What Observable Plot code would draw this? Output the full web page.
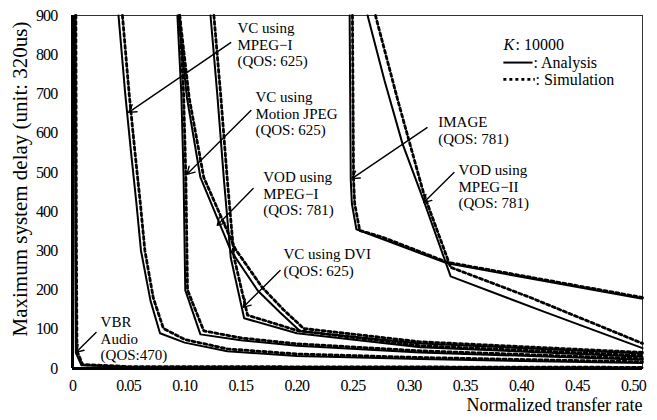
<!DOCTYPE html>
<html>
<head>
<meta charset="utf-8">
<script src="https://cdn.jsdelivr.net/npm/d3@7"></script>
<script src="https://cdn.jsdelivr.net/npm/@observablehq/plot@0.6"></script>
<style>
  html, body { margin: 0; padding: 0; background: #fff; }
  #chart svg text { font-family: "Liberation Serif", "DejaVu Serif", serif; }
  g[aria-label="x-axis tick label"] text, g[aria-label="y-axis tick label"] text { letter-spacing: -0.8px; }
</style>
</head>
<body>
<div id="chart"></div>
<script>
// ---------- tick values ----------
const xTicks = [0, 0.05, 0.10, 0.15, 0.20, 0.25, 0.30, 0.35, 0.40, 0.45, 0.50];
const xTickLabels = ["0", "0.05", "0.10", "0.15", "0.20", "0.25", "0.30", "0.35", "0.40", "0.45", "0.50"];
const yTicks = [0, 100, 200, 300, 400, 500, 600, 700, 800, 900];

// ---------- series: [normalized transfer rate, max system delay] ----------
// Analysis (solid)
const vbrAnalysis      = [[0.002, 900], [0.0025, 300], [0.003, 40], [0.008, 8], [0.05, 4], [0.508, 2]];
const mpeg1Analysis    = [[0.041, 900], [0.047, 700], [0.052, 556], [0.057, 420], [0.061, 301], [0.0695, 173], [0.078, 90], [0.1, 66], [0.138, 44], [0.2, 32], [0.31, 24], [0.508, 14]];
const mjpegAnalysis    = [[0.0935, 900], [0.097, 700], [0.099, 490], [0.1005, 200], [0.114, 87], [0.15, 72], [0.2, 58], [0.31, 41], [0.508, 22]];
const vodMpeg1Analysis = [[0.0945, 900], [0.102, 690], [0.114, 487], [0.141, 301], [0.165, 199], [0.185, 143], [0.203, 95], [0.31, 64], [0.508, 38]];
const dviAnalysis      = [[0.123, 900], [0.129, 700], [0.135, 480], [0.141, 283], [0.153, 128], [0.2, 90], [0.31, 54], [0.508, 30]];
const imageAnalysis    = [[0.247, 900], [0.248, 480], [0.249, 420], [0.253, 355], [0.275, 331], [0.334, 268], [0.508, 178]];
const vodMpeg2Analysis = [[0.263, 900], [0.278, 735], [0.294, 574], [0.313, 428], [0.337, 235], [0.42, 145], [0.508, 52]];

// Simulation (dashed)
const vbrSimulation      = [[0.003, 900], [0.0035, 300], [0.004, 45], [0.009, 10], [0.05, 5], [0.508, 3]];
const mpeg1Simulation    = [[0.0445, 900], [0.0505, 700], [0.0555, 556], [0.0605, 420], [0.0645, 301], [0.072, 180], [0.081, 102], [0.1, 74], [0.138, 50], [0.2, 37], [0.31, 28], [0.508, 17]];
const mjpegSimulation    = [[0.0955, 900], [0.099, 700], [0.101, 490], [0.1025, 200], [0.117, 96], [0.15, 78], [0.2, 63], [0.31, 45], [0.508, 25]];
const vodMpeg1Simulation = [[0.0955, 900], [0.104, 690], [0.117, 487], [0.145, 305], [0.169, 207], [0.188, 150], [0.206, 102], [0.31, 68], [0.508, 41]];
const dviSimulation      = [[0.126, 900], [0.132, 700], [0.138, 480], [0.144, 283], [0.156, 136], [0.2, 97], [0.31, 58], [0.508, 33]];
const imageSimulation    = [[0.2495, 900], [0.2505, 480], [0.2515, 420], [0.256, 352], [0.277, 334], [0.334, 271], [0.508, 181]];
const vodMpeg2Simulation = [[0.27, 900], [0.29, 683], [0.313, 446], [0.337, 258], [0.408, 181], [0.508, 64]];

const curveNames = ["VBR Audio", "VC MPEG-I", "VC Motion JPEG", "VOD MPEG-I", "VC DVI", "IMAGE", "VOD MPEG-II"];
const analysisSeries = [vbrAnalysis, mpeg1Analysis, mjpegAnalysis, vodMpeg1Analysis, dviAnalysis, imageAnalysis, vodMpeg2Analysis];
const simulationSeries = [vbrSimulation, mpeg1Simulation, mjpegSimulation, vodMpeg1Simulation, dviSimulation, imageSimulation, vodMpeg2Simulation];

// ---------- annotations (data units) ----------
const annotationText = [
  "VC using\nMPEG\u2212I\n(QOS: 625)",
  "VC using\nMotion JPEG\n(QOS: 625)",
  "VOD using\nMPEG\u2212I\n(QOS: 781)",
  "VC using DVI\n(QOS: 625)",
  "IMAGE\n(QOS: 781)",
  "VOD using\nMPEG\u2212II\n(QOS: 781)",
  "VBR\nAudio\n(QOS:470)"
];
const annotationX = [0.147, 0.163, 0.170, 0.188, 0.326, 0.344, 0.025];
const annotationY = [885, 709, 505, 308, 645, 523, 135];
const arrowFromX = [0.141, 0.159, 0.161, 0.185, 0.316, 0.340, 0.021];
const arrowFromY = [831, 658, 459, 250, 614, 500, 92];
const arrowToX   = [0.050, 0.102, 0.129, 0.152, 0.249, 0.313, 0.003];
const arrowToY   = [653, 495, 365, 156, 484, 423, 41];

// ---------- tables ----------
const toRows = (series) => series.flatMap((pts, i) => pts.map(([x, y]) => ({curve: curveNames[i], x, y})));
const analysisRows = toRows(analysisSeries);
const simulationRows = toRows(simulationSeries);
const annotations = annotationText.map((t, i) => ({
  text: t, x: annotationX[i], y: annotationY[i],
  x1: arrowFromX[i], y1: arrowFromY[i], x2: arrowToX[i], y2: arrowToY[i]
}));

// legend sample lines (data units)
const legendSolid = [{x1: 0.384, x2: 0.410, y: 780}];
const legendDashed = [{x1: 0.384, x2: 0.412, y: 737}];

const chart = Plot.plot({
  width: 657,
  height: 420,
  marginLeft: 72,
  marginRight: 15,
  marginTop: 15,
  marginBottom: 52,
  style: {fontFamily: "'Liberation Serif', serif", fontSize: "15px", color: "black", background: "white"},
  x: {domain: [0, 0.508]},
  y: {domain: [0, 900]},
  marks: [
    Plot.frame({stroke: "#333", strokeWidth: 1}),
    Plot.axisX({ticks: xTicks, tickFormat: (d) => xTickLabels[xTicks.indexOf(d)], tickSize: 0, tickPadding: 11, label: null, fontSize: 16}),
    Plot.axisY({ticks: yTicks, tickSize: 0, tickPadding: 15, label: null, fontSize: 16}),
    Plot.line(analysisRows, {x: "x", y: "y", z: "curve", stroke: "black", strokeWidth: 2}),
    Plot.line(simulationRows, {x: "x", y: "y", z: "curve", stroke: "black", strokeWidth: 2.8, strokeDasharray: "3,3"}),
    Plot.ruleX([0], {stroke: "black", strokeWidth: 3}),
    Plot.ruleY([0], {stroke: "black", strokeWidth: 3}),
    Plot.arrow(annotations, {x1: "x1", y1: "y1", x2: "x2", y2: "y2", stroke: "black", strokeWidth: 1.4, headLength: 9}),
    Plot.text(annotations, {x: "x", y: "y", text: "text", textAnchor: "start", lineAnchor: "top", lineHeight: 1.1, fontSize: 15, fill: "black"}),
    // legend
    Plot.text(["K"], {frameAnchor: "top-left", dx: 431, dy: 29, textAnchor: "start", lineAnchor: "middle", fontStyle: "italic", fontSize: 16}),
    Plot.text([": 10000"], {frameAnchor: "top-left", dx: 443, dy: 29, textAnchor: "start", lineAnchor: "middle", fontSize: 16}),
    Plot.link(legendSolid, {x1: "x1", x2: "x2", y1: "y", y2: "y", stroke: "black", strokeWidth: 2}),
    Plot.link(legendDashed, {x1: "x1", x2: "x2", y1: "y", y2: "y", stroke: "black", strokeWidth: 2.8, strokeDasharray: "3,3"}),
    Plot.text([": Analysis"], {frameAnchor: "top-left", dx: 461, dy: 47, textAnchor: "start", lineAnchor: "middle", fontSize: 16}),
    Plot.text([": Simulation"], {frameAnchor: "top-left", dx: 463, dy: 64, textAnchor: "start", lineAnchor: "middle", fontSize: 16}),
    // axis titles
    Plot.text(["Normalized transfer rate"], {frameAnchor: "bottom-right", dy: 37, textAnchor: "end", lineAnchor: "middle", fontSize: 18}),
    Plot.text(["Maximum system delay (unit: 320us)"], {frameAnchor: "left", dx: -52, dy: -13, rotate: -90, textAnchor: "middle", lineAnchor: "middle", fontSize: 21})
  ]
});
document.getElementById("chart").appendChild(chart);
</script>
</body>
</html>
